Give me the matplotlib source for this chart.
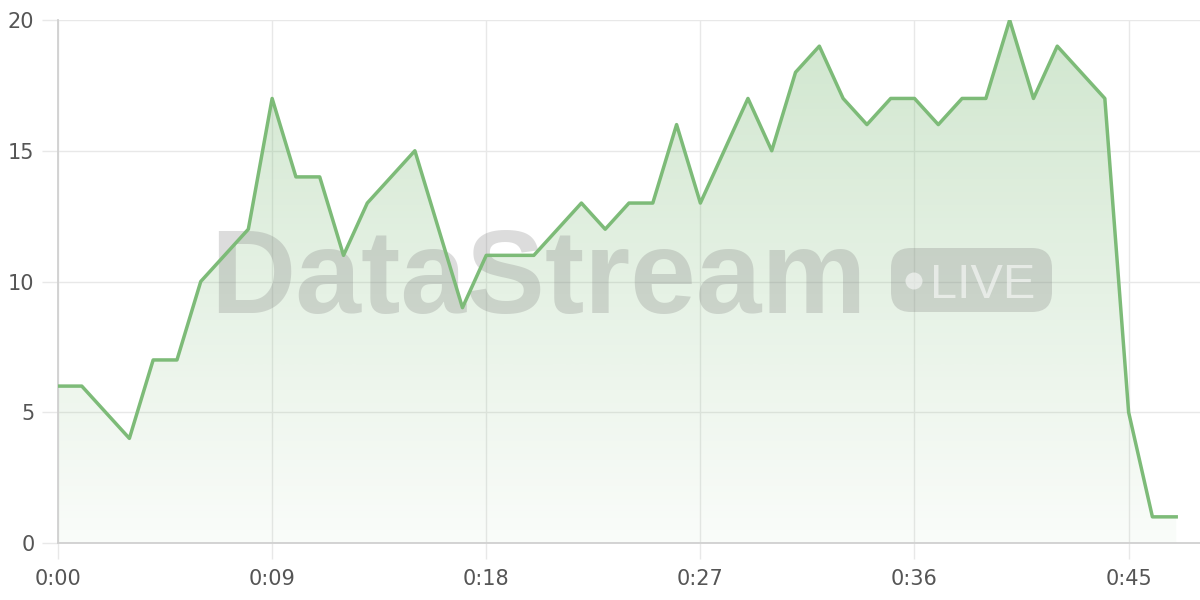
import matplotlib
matplotlib.use("Agg")
import matplotlib.pyplot as plt
import numpy as np
from matplotlib.patches import FancyBboxPatch, Circle
from matplotlib.colors import LinearSegmentedColormap
from matplotlib.transforms import IdentityTransform

# values per minute
minutes = list(range(48))
counts = [6, 6, 5, 4, 7, 7, 10, 11, 12, 17, 14, 14, 11, 13, 14, 15, 12, 9,
          11, 11, 11, 12, 13, 12, 13, 13, 16, 13, 15, 17, 15, 18, 19, 17, 16,
          17, 17, 16, 17, 17, 20, 17, 19, 18, 17, 5, 1, 1]
x_ticks = [0, 9, 18, 27, 36, 45]
x_labels = ["0:00", "0:09", "0:18", "0:27", "0:36", "0:45"]
y_ticks = [0, 5, 10, 15, 20]

line_col = "#7dbb78"
grid_col = "#e8e8e8"
text_col = "#555555"
wm_col = (0.5, 0.5, 0.5, 0.27)

fig = plt.figure(figsize=(12, 6), dpi=100)
ax = fig.add_axes([58 / 1200, 57 / 600, 1142 / 1200, 523 / 600])
ax.set_xlim(0, 48)
ax.set_ylim(0, 20)

# gradient fill under the line
fill = ax.fill_between(minutes, counts, 0, color="none", lw=0)
cmap = LinearSegmentedColormap.from_list(
    "g", [(0.49, 0.73, 0.47, 0.04), (0.49, 0.73, 0.47, 0.36)])
grad = np.linspace(0, 1, 256).reshape(-1, 1)
img = ax.imshow(grad, cmap=cmap, origin="lower", aspect="auto",
                extent=[0, 48, 0, 20], zorder=1, interpolation="bicubic")
img.set_clip_path(fill.get_paths()[0], transform=ax.transData)

# watermark, placed in pixels (origin bottom-left)
px = IdentityTransform()
ax.text(210, 600 - 313, "DataStream", transform=px, fontsize=85,
        fontweight="bold", family="Liberation Sans", color=wm_col,
        ha="left", va="baseline", zorder=2)
box = FancyBboxPatch((891, 600 - 312), 161, 64, transform=px,
                     boxstyle="round,pad=0,rounding_size=20",
                     fc=wm_col, ec="none", zorder=2)
ax.add_patch(box)
ax.add_patch(Circle((914, 600 - 281), 8.5, transform=px,
                    fc=(1, 1, 1, 0.55), ec="none", zorder=2))
ax.text(930, 600 - 298, "LIVE", transform=px, fontsize=35,
        family="Liberation Sans", color=(1, 1, 1, 0.55),
        ha="left", va="baseline", zorder=2)

ax.plot(minutes, counts, color=line_col, lw=2.5, zorder=3)

ax.set_xticks(x_ticks)
ax.set_xticklabels(x_labels)
ax.set_yticks(y_ticks)
ax.grid(True, color=grid_col, lw=1, zorder=0)
ax.set_axisbelow(True)
for s in ["top", "right"]:
    ax.spines[s].set_visible(False)
for s in ["left", "bottom"]:
    ax.spines[s].set_color("#d0d0d0")
    ax.spines[s].set_linewidth(1.3)
ax.tick_params(axis="both", length=11.5, width=1, color=grid_col,
               labelcolor=text_col, labelsize=15)
ax.tick_params(axis="x", pad=7)
ax.tick_params(axis="y", pad=5.5)

fig.savefig("out.png", dpi=100)
